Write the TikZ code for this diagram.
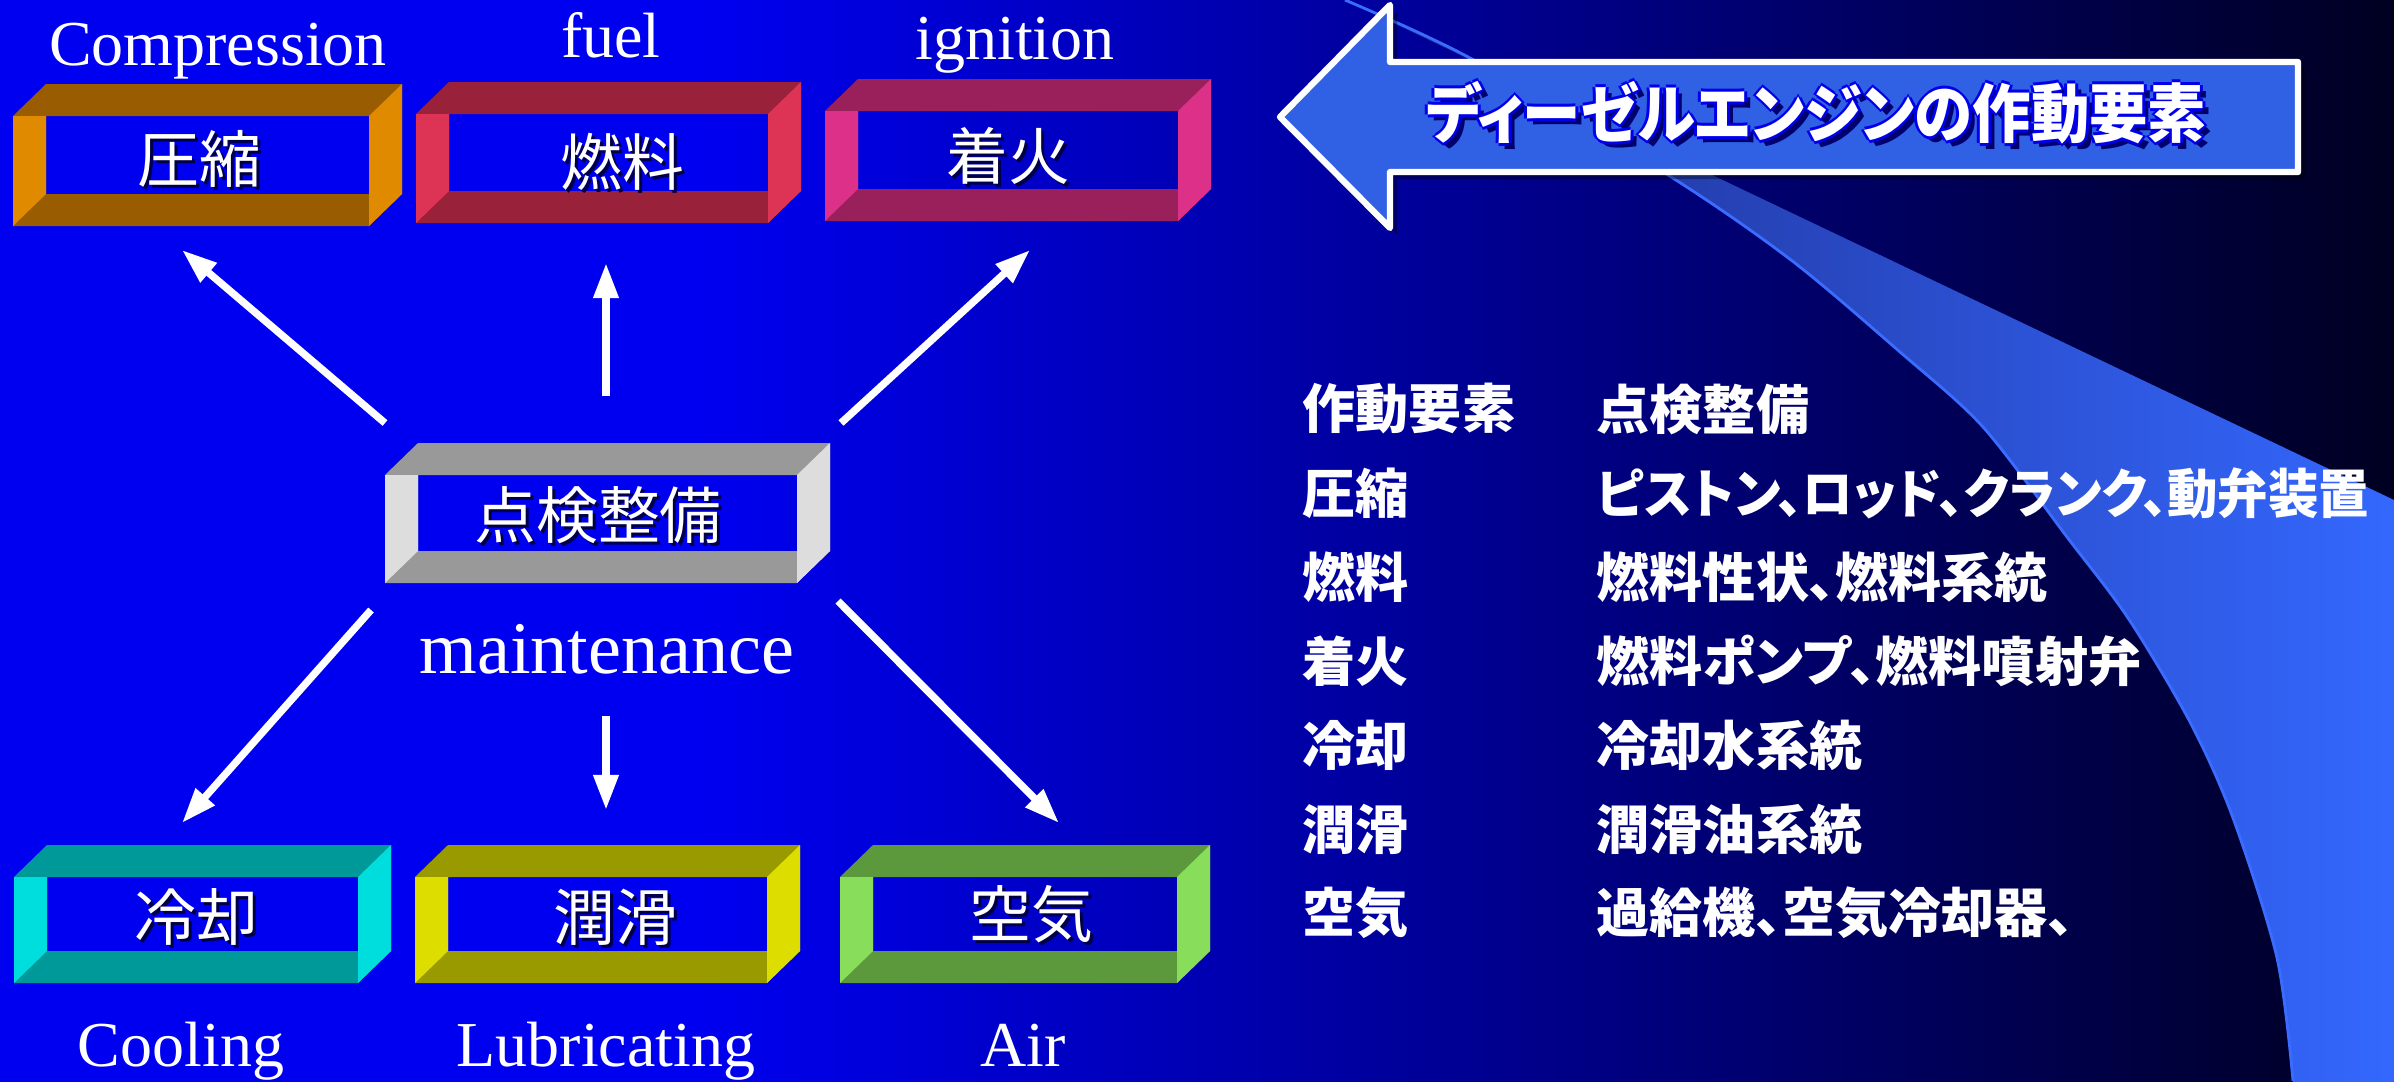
\documentclass[tikz,border=0pt]{standalone}
\usepackage{graphicx}
\usepackage{fontspec}
\setmainfont{Liberation Serif}
\newfontfamily\jp{Noto Sans CJK JP}
\newfontfamily\jpb{Noto Sans CJK JP}[RawFeature=+palt]
\usetikzlibrary{arrows.meta}
\definecolor{bgblue}{RGB}{0,0,240}
\definecolor{bgdark}{RGB}{0,0,32}
\definecolor{arrowblue}{RGB}{48,96,228}
\definecolor{bandL}{RGB}{30,44,140}
\definecolor{bandR}{RGB}{52,104,255}
\definecolor{bandline}{RGB}{58,108,255}
\definecolor{orangeD}{RGB}{153,92,0}\definecolor{orangeL}{RGB}{224,138,0}
\definecolor{redD}{RGB}{153,34,58}\definecolor{redL}{RGB}{221,51,85}
\definecolor{magD}{RGB}{153,32,90}\definecolor{magL}{RGB}{221,48,136}
\definecolor{grayD}{RGB}{153,153,153}\definecolor{grayL}{RGB}{221,221,221}
\definecolor{cyanD}{RGB}{0,153,153}\definecolor{cyanL}{RGB}{0,221,221}
\definecolor{yelD}{RGB}{153,153,0}\definecolor{yelL}{RGB}{221,221,0}
\definecolor{grnD}{RGB}{92,153,61}\definecolor{grnL}{RGB}{136,221,90}
\definecolor{shadowc}{RGB}{0,0,70}
\definecolor{outlinec}{RGB}{0,0,235}
\definecolor{tshadow}{RGB}{0,0,110}
% 3D hollow box: #1 x0, #2 x1, #3 y0, #4 y1, #5 dark, #6 light
\newcommand\tubebox[6]{%
  \fill[#5,even odd rule] (#1,#3) -- ({#1+33},{#3-32}) -- ({#2+33},{#3-32}) -- ({#2+33},{#4-32}) -- (#2,#4) -- (#1,#4) -- cycle
     ({#1+33},#3) rectangle (#2,{#4-32});
  \fill[#6] (#2,#3) -- ({#2+33},{#3-32}) -- ({#2+33},{#4-32}) -- (#2,#4) -- cycle;
  \fill[#6] (#1,#3) -- ({#1+33},#3) -- ({#1+33},{#4-32}) -- (#1,#4) -- cycle;
}
% label with drop shadow: #1 name, #2 x, #3 y, #4 text
\newcommand\boxlabel[4]{%
  \node[boxtxt,text=shadowc] at ({#2+3},{#3+3}) {#4};
  \node[boxtxt] (#1) at (#2,#3) {#4};
}
\newcommand\titletext{\resizebox{7.8cm}{\height}{ディーゼルエンジンの作動要素}}
\tikzset{
  boxtxt/.style={font={\jp\fontsize{17.6}{20}\selectfont}, text=white, inner sep=0pt},
  entxt/.style={font={\fontsize{18.2}{21}\selectfont}, text=white, inner sep=0pt, anchor=base},
  listtxt/.style={font={\jpb\bfseries\fontsize{15.1}{17}\selectfont}, text=white, inner sep=0pt, anchor=west},
  titletxt/.style={font={\jpb\bfseries\fontsize{18.2}{20}\selectfont}, inner sep=0pt},
  conn/.style={draw=white, line width=2.1pt, -{Triangle[length=10pt,width=6.8pt]}},
}
\begin{document}
\begin{tikzpicture}[x=0.01cm,y=-0.01cm]
\useasboundingbox (0,0) rectangle (2394,1081);
% background
\fill[bgblue] (-10,-10) rectangle (702,1095);
\shade[left color=bgblue, right color=bgdark] (700,-10) rectangle (2404,1095);
% swoosh band
\shade[left color=bandL, right color=bandR]
  plot[smooth] coordinates {(1345,0) (1470,58) (1668,175) (1791,260) (1900,352) (1983,427) (2067,537) (2128,618) (2190,722) (2233,818) (2277,958) (2293,1081)}
  -- (2293,1095) -- (2404,1095) -- (2404,505) -- (2394,500) -- (1345,0) -- cycle;
\draw[bandline, line width=0.8pt]
  plot[smooth] coordinates {(1345,0) (1470,58) (1668,175) (1791,260) (1900,352) (1983,427) (2067,537) (2128,618) (2190,722) (2233,818) (2277,958) (2293,1081)};
% big title arrow
\fill[black, opacity=0.35] (1287,124) -- (1397,12) -- (1397,69) -- (2305,69) -- (2305,179) -- (1397,179) -- (1397,235) -- cycle;
\filldraw[fill=arrowblue, draw=white, line width=1.8pt, line join=round]
  (1280,117) -- (1390,5) -- (1390,62) -- (2298,62) -- (2298,172) -- (1390,172) -- (1390,228) -- cycle;
\node[titletxt,text=tshadow] at (1822,119) {\titletext};
\foreach \dx/\dy in {3/0,-3/0,0/3,0/-3} \node[titletxt,text=outlinec] at ({1816+\dx},{113+\dy}) {\titletext};
\node[titletxt,text=white] (title) at (1816,113) {\titletext};
% boxes
\tubebox{13}{369}{116}{226}{orangeD}{orangeL}
\tubebox{416}{768}{114}{223}{redD}{redL}
\tubebox{825}{1178}{111}{221}{magD}{magL}
\tubebox{385}{797}{475}{583}{grayD}{grayL}
\tubebox{14}{358}{877}{983}{cyanD}{cyanL}
\tubebox{415}{767}{877}{983}{yelD}{yelL}
\tubebox{840}{1177}{877}{983}{grnD}{grnL}
\boxlabel{comp}{199}{159}{圧縮}
\boxlabel{fuel}{622}{162}{燃料}
\boxlabel{ign}{1008}{156}{着火}
\boxlabel{main}{598}{515}{点検整備}
\boxlabel{cool}{196}{917}{冷却}
\boxlabel{lub}{615}{917}{潤滑}
\boxlabel{air}{1031}{914}{空気}
% english labels
\node[entxt] (tcomp) at (218,65) {Compression};
\node[entxt] (tfuel) at (611,57) {fuel};
\node[entxt] (tign) at (1015,59) {ignition};
\node[entxt,font={\fontsize{21.1}{24}\selectfont}] (tmain) at (607,673) {maintenance};
\node[entxt] (tcool) at (181,1066) {Cooling};
\node[entxt] (tlub) at (606,1066) {Lubricating};
\node[entxt] (tair) at (1023,1066) {Air};
% connectors
\coordinate (c1s) at (385,423); \coordinate (c1e) at (182,250);
\coordinate (c2s) at (606,396); \coordinate (c2e) at (606,263);
\coordinate (c3s) at (841,423); \coordinate (c3e) at (1030,250);
\coordinate (c4s) at (371,610); \coordinate (c4e) at (182,823);
\coordinate (c5s) at (606,716); \coordinate (c5e) at (606,810);
\coordinate (c6s) at (838,601); \coordinate (c6e) at (1059,823);
\draw[conn] (c1s) -- (c1e);
\draw[conn] (c2s) -- (c2e);
\draw[conn] (c3s) -- (c3e);
\draw[conn] (c4s) -- (c4e);
\draw[conn] (c5s) -- (c5e);
\draw[conn] (c6s) -- (c6e);
% list
\node[listtxt] (l1a) at (1302,409) {作動要素};
\node[listtxt] (l1b) at (1596,409) {点検整備};
\node[listtxt] (l2a) at (1302,493) {圧縮};
\node[listtxt] (l2b) at (1596,493) {\resizebox{7.72cm}{\height}{ピストン、ロッド、クランク、動弁装置}};
\node[listtxt] (l3a) at (1302,577) {燃料};
\node[listtxt] (l3b) at (1596,577) {燃料性状、燃料系統};
\node[listtxt] (l4a) at (1302,661) {着火};
\node[listtxt] (l4b) at (1596,661) {燃料ポンプ、燃料噴射弁};
\node[listtxt] (l5a) at (1302,745) {冷却};
\node[listtxt] (l5b) at (1596,745) {冷却水系統};
\node[listtxt] (l6a) at (1302,829) {潤滑};
\node[listtxt] (l6b) at (1596,829) {潤滑油系統};
\node[listtxt] (l7a) at (1302,913) {空気};
\node[listtxt] (l7b) at (1596,913) {過給機、空気冷却器、};
\end{tikzpicture}
\end{document}
